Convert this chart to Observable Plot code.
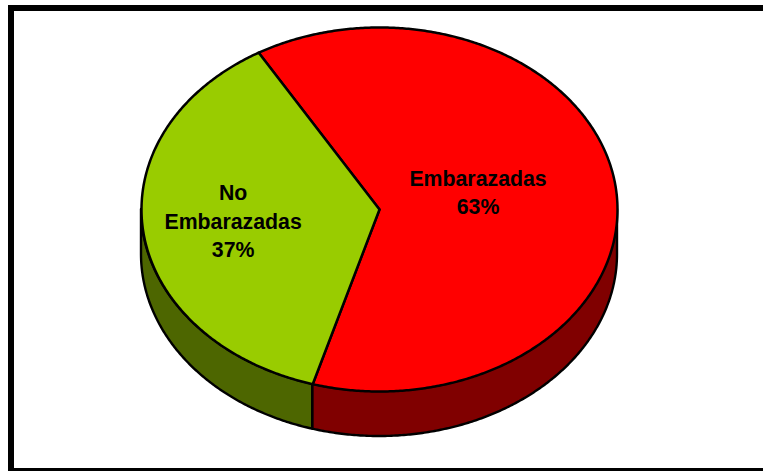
<!DOCTYPE html>
<html>
<head>
<meta charset="utf-8">
<script src="https://cdn.jsdelivr.net/npm/d3@7"></script>
<script src="https://cdn.jsdelivr.net/npm/@observablehq/plot@0.6"></script>
<style>
html,body{margin:0;padding:0;background:#fff;overflow:hidden;width:763px;height:471px}
#frame{position:absolute;left:8px;top:5px;width:800px;height:457px;border:6px solid #000;box-sizing:content-box}
#chart{position:absolute;left:0;top:0}
#chart svg{display:block;background:transparent}
</style>
</head>
<body>
<div id="frame"></div>
<div id="chart"></div>
<script>
// Data
const categories = ["Embarazadas", "No Embarazadas"];
const shares = [63, 37];
const labels = ["Embarazadas\n63%", "No\nEmbarazadas\n37%"];

// Appearance and layout of the tilted pie
const topColors = ["#ff0000", "#99cc00"];
const wallColors = ["#800000", "#4d6600"];
const firstSliceAngle = -30.5;     // degrees clockwise from 12 o'clock
const wallDepth = 45 / 182;        // in units of the vertical radius
const labelX = [0.414, -0.615];
const labelY = [0.103, -0.056];
const center = [379, 209], radii = [238, 182];

// Build the slices from the shares
const total = d3.sum(shares);
let running = firstSliceAngle;
const slices = categories.map((name, i) => {
  const start = running;
  const end = start + shares[i] / total * 360;
  running = end;
  return {name, i, start, end};
});
const rad = d => d * Math.PI / 180;
const rimX = a => Math.sin(rad(a));
const rimY = a => Math.cos(rad(a));

const topPoints = slices.flatMap(s => {
  const rim = d3.range(s.start, s.end, 0.5).concat(s.end).map(a => ({name: s.name, x: rimX(a), y: rimY(a)}));
  return [{name: s.name, x: 0, y: 0}, ...rim, {name: s.name, x: 0, y: 0}];
});
// Only the front half of the rim (90..270 degrees clockwise from the top) shows a wall
const wallPoints = slices.flatMap(s => {
  const ranges = [[s.start, s.end], [s.start + 360, s.end + 360]];
  return ranges.flatMap(([a, b]) => {
    const lo = Math.max(a, 90), hi = Math.min(b, 270);
    if (lo >= hi) return [];
    return d3.range(lo, hi, 0.5).concat(hi).map(t => ({
      name: s.name, x: rimX(t), y1: rimY(t), y2: rimY(t) - wallDepth
    }));
  });
});
const labelRows = categories.map((name, i) => ({name, text: labels[i], x: labelX[i], y: labelY[i]}));

const colorOf = (list) => d => list[categories.indexOf(d.name)];

const chart = Plot.plot({
  width: 763,
  height: 471,
  margin: 0,
  style: {background: "transparent"},
  x: {axis: null, domain: [-1, 1], range: [center[0] - radii[0], center[0] + radii[0]]},
  y: {axis: null, domain: [-1, 1], range: [center[1] + radii[1], center[1] - radii[1]]},
  color: {type: "identity"},
  marks: [
    Plot.areaY(wallPoints, {
      x: "x", y1: "y1", y2: "y2", z: "name",
      fill: colorOf(wallColors), stroke: "#000", strokeWidth: 2.4, strokeLinejoin: "round"
    }),
    ...slices.map(s => Plot.line(topPoints.filter(d => d.name === s.name), {
      x: "x", y: "y",
      fill: topColors[s.i], stroke: "#000", strokeWidth: 2.5, strokeLinejoin: "round"
    })),
    Plot.text(labelRows, {
      x: "x", y: "y", text: "text",
      fontFamily: "Liberation Sans, Arial, sans-serif",
      fontWeight: "bold", fontSize: 21.3, lineHeight: 1.34, fill: "#000"
    })
  ]
});
document.getElementById("chart").appendChild(chart);
</script>
</body>
</html>
